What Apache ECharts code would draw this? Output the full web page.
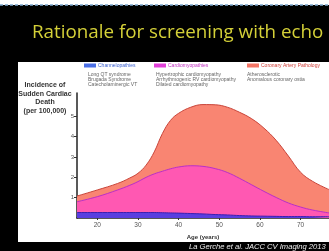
<!DOCTYPE html>
<html>
<head>
<meta charset="utf-8">
<script src="https://cdn.jsdelivr.net/npm/echarts@6/dist/echarts.min.js"></script>
<style>
  html, body { margin: 0; padding: 0; background: #000; }
  #chart { width: 329px; height: 251px; }
</style>
</head>
<body>
<div id="chart"></div>
<script>
// ages (years) sampled along the curves
const ages = [15, 20, 25, 28, 30, 32, 34, 36, 38, 40, 43, 46, 49, 52, 55, 58, 61, 64, 67, 70, 73, 77]
// incidence per 100,000 for each cause (stacked bottom to top)
const channelopathies = [0.27, 0.27, 0.27, 0.27, 0.27, 0.27, 0.27, 0.26, 0.25, 0.24, 0.22, 0.20, 0.17, 0.15, 0.12, 0.10, 0.09, 0.08, 0.07, 0.07, 0.06, 0.06]
const cardiomyopathies = [0.53, 0.78, 1.11, 1.34, 1.52, 1.73, 1.90, 2.04, 2.17, 2.27, 2.35, 2.34, 2.26, 2.09, 1.83, 1.53, 1.22, 0.93, 0.67, 0.47, 0.33, 0.19]
const coronary = [0.28, 0.33, 0.32, 0.36, 0.41, 0.60, 1.08, 1.85, 2.38, 2.64, 2.88, 3.04, 3.14, 3.21, 3.25, 3.25, 3.11, 2.81, 2.31, 1.71, 1.41, 1.15]
const xTicks = [20, 30, 40, 50, 60, 70]
const yTicks = [1, 2, 3, 4, 5]

const chLabels = ['Long QT syndrome', 'Brugada Syndrome', 'Catecholaminergic VT']
const cmLabels = ['Hypertrophic cardiomyopathy', 'Arrhythmogenic RV cardiomyopathy', 'Dilated cardiomyopathy']
const caLabels = ['Atherosclerotic', 'Anomalous coronary ostia']

// stack by hand: the value x axis would otherwise get stacked instead of y
const cum1 = channelopathies
const cum2 = cum1.map((v, i) => v + cardiomyopathies[i])
const cum3 = cum2.map((v, i) => v + coronary[i])
const pairs = (vals) => ages.map((a, i) => [a, +vals[i].toFixed(3)])

const chart = echarts.init(document.getElementById('chart'))

const subText = (lines, x) => lines.map((t, i) => ({
  type: 'text',
  x: x,
  y: 72 + i * 5,
  style: { text: t, fill: '#666', font: '5px "Liberation Sans"' }
}))

const legendItem = (name, left, color, textColor) => ({
  left: left,
  top: 63,
  itemWidth: 12,
  itemHeight: 4,
  itemGap: 2,
  icon: 'rect',
  padding: 0,
  data: [{ name: name, itemStyle: { color: color } }],
  textStyle: { color: textColor, fontSize: 5, fontFamily: 'Liberation Sans', padding: [0, 0, 0, -3] },
  selectedMode: false
})

const area = (name, vals, fill, stroke) => ({
  name: name,
  type: 'line',
  smooth: 0.4,
  symbol: 'none',
  data: pairs(vals),
  itemStyle: { color: fill },
  lineStyle: { color: stroke, width: 1 },
  areaStyle: { color: fill, opacity: 1 }
})

chart.setOption({
  backgroundColor: '#000',
  animation: false,
  title: {
    text: 'Rationale for screening with echo',
    left: 27,
    top: 18,
    textStyle: { color: '#d4d038', fontSize: 18.8, fontWeight: 'normal', fontFamily: 'Open Sans' }
  },
  legend: [
    legendItem('Channelopathies', 84, '#4a6fe6', '#3a5fd0'),
    legendItem('Cardiomyopathies', 154, '#e040d8', '#c030c0'),
    legendItem('Coronary Artery Pathology', 247, '#f37565', '#d0403a')
  ],
  graphic: [
    { type: 'rect', shape: { x: 0, y: 0, width: 329, height: 5 }, style: { fill: '#fff' }, z: -10 },
    { type: 'line', shape: { x1: 0, y1: 5, x2: 329, y2: 5 }, style: { stroke: '#7fa9cf', lineWidth: 1.5, lineDash: [3, 2] }, z: -9 },
    { type: 'rect', shape: { x: 18, y: 62, width: 311, height: 180 }, style: { fill: '#fff' }, z: -10 },
    {
      type: 'text',
      x: 45,
      y: 81,
      style: {
        text: 'Incidence of\nSudden Cardiac\nDeath\n(per 100,000)',
        fill: '#333',
        font: 'bold 7px "Liberation Sans"',
        align: 'center',
        lineHeight: 8.5
      }
    },
    {
      type: 'text',
      x: 189,
      y: 243,
      style: { text: 'La Gerche et al. JACC CV Imaging 2013', fill: '#eee', font: 'italic 7.6px "Liberation Sans"' }
    },
    ...subText(chLabels, 88),
    ...subText(cmLabels, 156),
    ...subText(caLabels, 247)
  ],
  grid: { left: 77, right: 0, top: 93, bottom: 33 },
  xAxis: {
    type: 'value',
    min: 15,
    max: 77,
    name: 'Age (years)',
    nameLocation: 'middle',
    nameGap: 16,
    nameTextStyle: { color: '#333', fontSize: 6, fontWeight: 'bold', fontFamily: 'Liberation Sans' },
    axisLine: { lineStyle: { color: '#222', width: 1.5 } },
    axisTick: { customValues: xTicks, length: 2, lineStyle: { color: '#333' } },
    axisLabel: { customValues: xTicks, color: '#555', fontSize: 6.5, margin: 4 },
    splitLine: { show: false }
  },
  yAxis: {
    type: 'value',
    min: 0,
    max: 6.15,
    axisLine: { show: true, lineStyle: { color: '#222', width: 1.5 } },
    axisTick: { show: true, customValues: yTicks, length: 3, lineStyle: { color: '#333' } },
    axisLabel: { customValues: yTicks, color: '#555', fontSize: 6, margin: 3 },
    splitLine: { show: false }
  },
  // drawn back to front so each cumulative curve sits on the one above it
  series: [
    area('Coronary Artery Pathology', cum3, '#f98572', '#c8453a'),
    area('Cardiomyopathies', cum2, '#ff58b2', '#b830c8'),
    area('Channelopathies', cum1, '#5a3ee0', '#3a1fb0')
  ]
})
</script>
</body>
</html>
